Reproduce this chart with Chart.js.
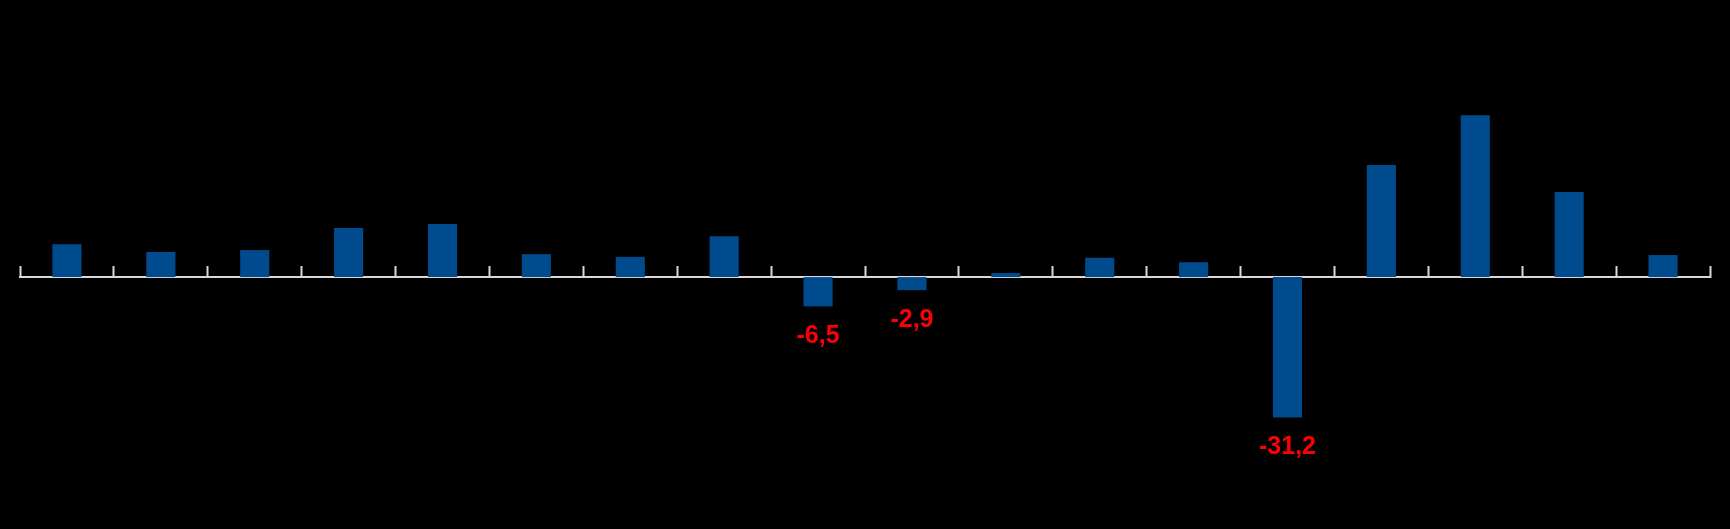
<!DOCTYPE html>
<html>
<head>
<meta charset="utf-8">
<script src="https://cdn.jsdelivr.net/npm/chart.js@4/dist/chart.umd.min.js"></script>
<style>
  html, body { margin: 0; padding: 0; background: #000; }
  .chart-container { width: 1730px; height: 529px; position: relative; }
</style>
</head>
<body>
<div class="chart-container"><canvas id="chart"></canvas></div>
<script>
// Data
const categories = ["1", "2", "3", "4", "5", "6", "7", "8", "9", "10", "11", "12", "13", "14", "15", "16", "17", "18"];
const values = [7.3, 5.6, 6.0, 10.9, 11.8, 5.1, 4.5, 9.1, -6.5, -2.9, 0.9, 4.3, 3.3, -31.2, 24.9, 36.0, 18.9, 4.9];

// draw red labels under the negative bars
const negativeLabels = {
  id: "negativeLabels",
  afterDatasetsDraw(chart) {
    const ctx = chart.ctx;
    const meta = chart.getDatasetMeta(0);
    ctx.save();
    ctx.font = "bold 25px 'Liberation Sans', Arial, sans-serif";
    ctx.fillStyle = "#ff0000";
    ctx.textAlign = "center";
    ctx.textBaseline = "middle";
    meta.data.forEach((bar, i) => {
      const v = values[i];
      if (v >= 0) return;
      const text = v.toFixed(1).replace(".", ",");
      ctx.fillText(text, bar.x, bar.y + 30);
    });
    ctx.restore();
  },
};

const chartConfig = {
  type: "bar",
  data: {
    labels: categories,
    datasets: [
      {
        data: values,
        backgroundColor: "#004b8d",
        borderWidth: 0,
        barPercentage: 0.62,
        categoryPercentage: 0.5,
      },
    ],
  },
  options: {
    responsive: true,
    maintainAspectRatio: false,
    animation: false,
    layout: { padding: { left: 20, right: 20, top: 0, bottom: 0 } },
    plugins: {
      legend: { display: false },
      tooltip: { enabled: false },
    },
    scales: {
      x: {
        position: { y: 0 },
        offset: true,
        grid: {
          offset: true,
          drawOnChartArea: false,
          drawTicks: true,
          tickLength: -12,
          tickWidth: 2,
          tickColor: "#d9d9d9",
        },
        border: { display: true, color: "#d9d9d9", width: 2 },
        ticks: { display: false },
        afterFit: (s) => {
          s.height = 0;
        },
      },
      y: {
        display: false,
        min: -56,
        max: 61.6,
      },
    },
  },
  plugins: [negativeLabels],
};

const myChart = new Chart(document.getElementById("chart"), chartConfig);
</script>
</body>
</html>
